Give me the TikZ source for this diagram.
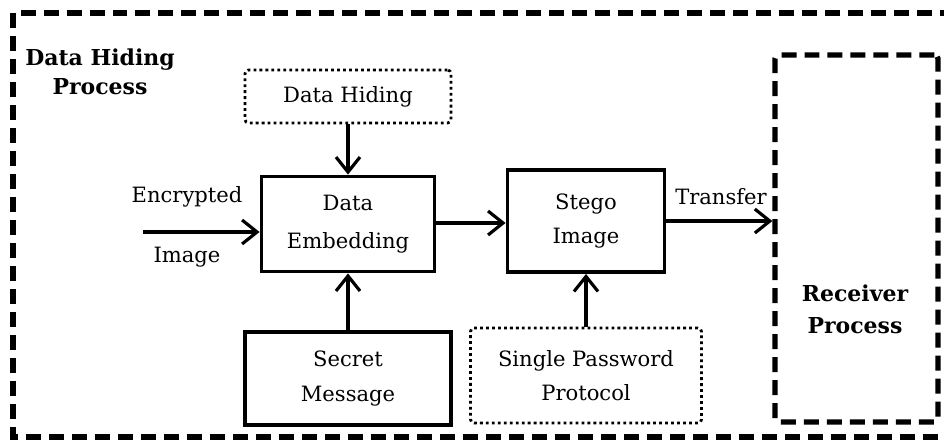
\documentclass[tikz,border=0pt]{standalone}
\usepackage{fontspec}
\setmainfont{DejaVu Serif}
\usepackage{tikz}
\usetikzlibrary{arrows.meta}
\tikzstyle{block}=[rectangle, draw, line width=2.2pt, align=center, inner sep=0pt]
\tikzstyle{dotblock}=[rectangle, draw, rounded corners=2pt, line width=1.6pt, dash pattern=on 1.6pt off 1.8pt, align=center, inner sep=0pt]
\tikzstyle{flow}=[line width=1.8pt, -{Straight Barb[length=0.3cm, width=0.48cm, line width=1.8pt]}]
\tikzstyle{dashbox}=[line width=3pt, dash pattern=on 0.3cm off 0.16cm]
\newcommand{\block}{\node[block]}
\newcommand{\dotblock}{\node[dotblock]}

\begin{document}
\begin{tikzpicture}[x=0.02cm, y=-0.02cm, every node/.style={font=\fontsize{12}{19.5}\selectfont}]
	%% the picture is measured in pixels of the original, y going down
	\useasboundingbox (0,0) rectangle (944,441);
	\clip (0,0) rectangle (944,441);
	\draw[dashbox] (13,13) rectangle (980,437);
	\node[align=center, font=\fontsize{12.5}{16.5}\selectfont\bfseries] (title) at (100,72) {Data Hiding\\Process};

	\dotblock (hiding) at (348,96.5) [minimum width=4.12cm, minimum height=1.06cm] {Data Hiding};
	\block (embed) at (348,224) [minimum width=3.46cm, minimum height=1.9cm] {Data\\[2pt]Embedding};
	\block (secret) at (348,378.5) [minimum width=4.12cm, minimum height=1.86cm] {Secret\\Message};
	\block (stego) at (586,221) [minimum width=3.14cm, minimum height=2.04cm] {Stego\\Image};
	\dotblock (password) at (586,375.5) [minimum width=4.62cm, minimum height=1.9cm] {Single Password\\Protocol};
	\node[dashbox, draw, rounded corners=2pt, minimum width=3.26cm, minimum height=7.34cm, align=center] (receiver) at (856.5,238.5) {};
	\node[align=center, font=\fontsize{12.5}{18}\selectfont\bfseries] (recvtext) at (855,309) {Receiver\\Process};

	%% free end of the incoming arrow
	\coordinate (input) at (143,232);
	\node (enc) at (187,197) {Encrypted};
	\node (img) at (187,257) {Image};
	\node (transfer) at (721,197) {Transfer};

	\path[flow]
		(input) edge (input -| embed.west)
		(hiding) edge (embed)
		(secret) edge (embed)
		(embed.east |- 0,223) edge (stego.west |- 0,223)
		(password) edge (stego)
		(stego.east) edge (stego.east -| receiver.west)
	;
\end{tikzpicture}
\end{document}
